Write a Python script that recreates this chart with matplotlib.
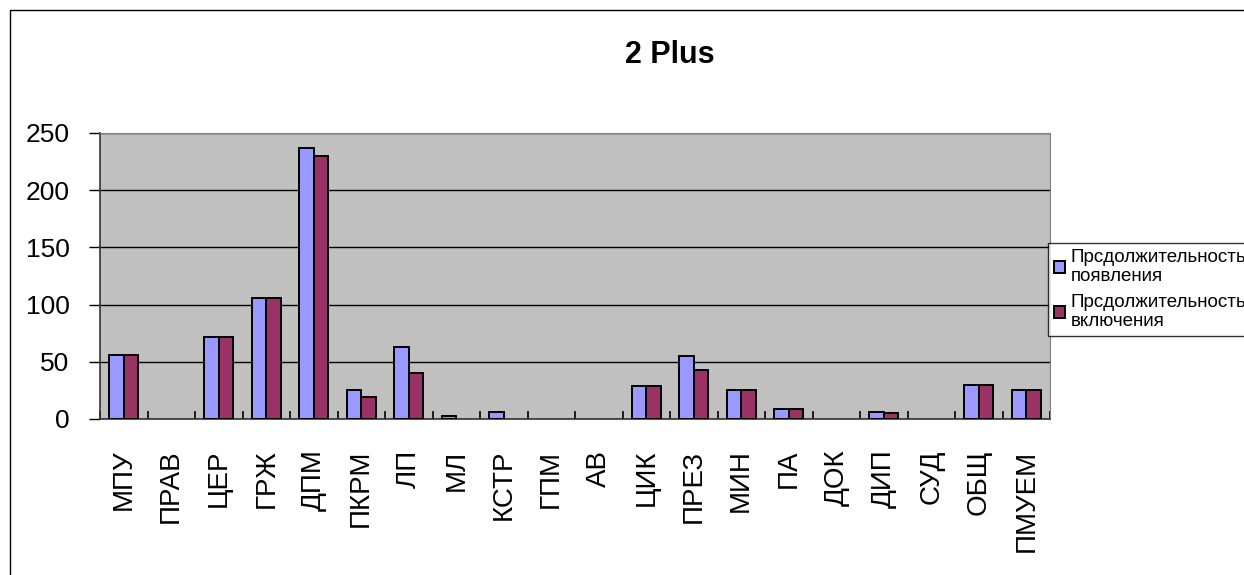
import matplotlib.pyplot as plt
from matplotlib.patches import Rectangle
import numpy as np

plt.rcParams['font.family'] = ['Liberation Sans', 'DejaVu Sans']

categories = ['МПУ', 'ПРАВ', 'ЦЕР', 'ГРЖ', 'ДПМ', 'ПКРМ', 'ЛП', 'МЛ', 'КСТР', 'ГПМ',
              'АВ', 'ЦИК', 'ПРЕЗ', 'МИН', 'ПА', 'ДОК', 'ДИП', 'СУД', 'ОБЩ', 'ПМУЕМ']
appearance = [56, 0, 72, 106, 237, 25, 63, 3, 6, 0, 0, 29, 55, 25, 9, 0, 6, 0, 30, 25]
inclusion = [56, 0, 72, 106, 230, 19, 40, 0, 0, 0, 0, 29, 43, 25, 9, 0, 5, 0, 30, 25]
series_names = ['Прсдолжительность\nпоявления', 'Прсдолжительность\nвключения']
title = '2 Plus'

fig = plt.figure(figsize=(12.44, 5.75), dpi=100)
# outer chart frame (clipped at right and bottom like the screenshot)
fig.patches.append(Rectangle((10 / 1244, -0.1), 1.2, 1 - 10 / 575 + 0.1,
                             transform=fig.transFigure, fill=False,
                             edgecolor='black', linewidth=1))

ax = fig.add_axes([100 / 1244, 156 / 575, 950 / 1244, 286 / 575])
ax.set_facecolor('#C0C0C0')

x = np.arange(len(categories))
w = 0.305
b1 = ax.bar(x - w / 2, appearance, w, color='#9999FF', edgecolor='black', linewidth=1.4,
            label=series_names[0], zorder=3)
b2 = ax.bar(x + w / 2, inclusion, w, color='#993366', edgecolor='black', linewidth=1.4,
            label=series_names[1], zorder=3)
# empty values show nothing, as in Excel
for bars in (b1, b2):
    for p in bars:
        if p.get_height() == 0:
            p.set_visible(False)

ax.set_xlim(-0.5, len(categories) - 0.5)
ax.set_ylim(0, 250)
ax.set_yticks(range(0, 251, 50))
ax.yaxis.grid(True, color='black', linewidth=1, zorder=1)

ax.set_xticks(x)
ax.set_xticklabels(categories, rotation=90, fontsize=20)
ax.tick_params(axis='x', which='major', length=0, pad=22)
ax.set_xticks(np.arange(-0.5, len(categories), 1), minor=True)
ax.tick_params(axis='x', which='minor', direction='in', length=6, width=1.2, color='black')
ax.tick_params(axis='y', direction='out', length=8, width=1, labelsize=19, pad=14)

for side in ['top', 'right']:
    ax.spines[side].set_color('#808080')
for side in ['left', 'bottom']:
    ax.spines[side].set_color('#333333')
    ax.spines[side].set_linewidth(1.2)

fig.text(670 / 1244, 1 - 55 / 575, title, ha='center', va='center',
         fontsize=22, fontweight='bold')

leg = fig.legend(loc='upper left', bbox_to_anchor=(1048 / 1244, 1 - 243 / 575),
                 fontsize=13.5, frameon=True, fancybox=False, edgecolor='black',
                 handlelength=0.6, handleheight=0.6, handletextpad=0.3,
                 borderpad=0.3, labelspacing=0.45, borderaxespad=0)
leg.get_frame().set_linewidth(1)

fig.savefig('out.png', dpi=100)
